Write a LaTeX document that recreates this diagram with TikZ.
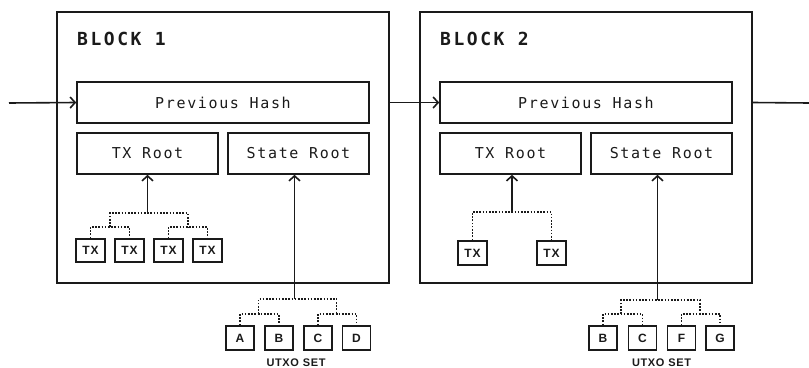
\documentclass[tikz,border=0pt]{standalone}
\usepackage{fontspec}
\usetikzlibrary{arrows.meta}
\newfontfamily\monofnt[LetterSpace=11]{DejaVu Sans Mono}
\newfontfamily\titlefnt[LetterSpace=14]{DejaVu Sans Mono}
\newfontfamily\labfnt[LetterSpace=6]{Liberation Sans}
\definecolor{ink}{HTML}{1A1A1A}
\tikzset{
  blockbox/.style={draw=ink, line width=1.7pt, minimum width=332pt, minimum height=271pt, inner sep=0pt},
  title/.style={anchor=base west, inner sep=0pt, text=ink, font=\titlefnt\bfseries\fontsize{18}{18}\selectfont},
  field/.style={draw=ink, line width=1.6pt, minimum height=41pt, inner sep=0pt, text=ink, font=\monofnt\fontsize{15}{15}\selectfont},
  leaf/.style={draw=ink, line width=1.5pt, minimum width=29pt, minimum height=23pt, inner sep=0pt, text=ink, font=\labfnt\bfseries\fontsize{12}{12}\selectfont},
  uleaf/.style={leaf, minimum width=28pt, minimum height=24pt},
  setlabel/.style={anchor=base, inner sep=0pt, text=ink, font=\labfnt\bfseries\fontsize{11}{11}\selectfont},
  dot/.style={draw=ink, line width=1.6pt, dash pattern=on 1.6pt off 1.6pt},
  arr/.style={draw=ink, line width=1.6pt, -{Straight Barb[length=5pt,width=11pt]}},
  plain/.style={draw=ink, line width=1.6pt}
}
\begin{document}
\begin{tikzpicture}[x=1pt,y=-1pt]
\useasboundingbox (0,0) rectangle (809,367);
% ---------- Block 1 ----------
\node[blockbox] (b1) at (223,147.5) {};
\node[title] (t1) at (77,45) {BLOCK 1};
\node[field, minimum width=292pt] (ph1) at (223,102.5) {Previous Hash};
\node[field, minimum width=141pt] (tr1) at (147.5,153.5) {TX Root};
\node[field, minimum width=141pt] (sr1) at (298.5,153.5) {State Root};
% TX leaves block 1
\node[leaf] (x1a) at (90.5,250.5) {TX};
\node[leaf] (x1b) at (129.5,250.5) {TX};
\node[leaf] (x1c) at (168.5,250.5) {TX};
\node[leaf] (x1d) at (207.5,250.5) {TX};
\coordinate (x1L) at (110,227);
\coordinate (x1R) at (188,227);
\coordinate (x1T) at (147.5,213);
\draw[dot] (x1a.north) |- (x1L) -| (x1b.north);
\draw[dot] (x1c.north) |- (x1R) -| (x1d.north);
\draw[dot] (x1L) |- (x1T) -| (x1R);
\draw[arr] (x1T) -- (x1T |- tr1.south);
% UTXO leaves block 1
\node[uleaf] (u1a) at (240,338) {A};
\node[uleaf] (u1b) at (279,338) {B};
\node[uleaf] (u1c) at (318,338) {C};
\node[uleaf] (u1d) at (356.5,338) {D};
\coordinate (u1L) at (258.5,314);
\coordinate (u1R) at (336.5,314);
\coordinate (u1T) at (294.5,299);
\draw[dot] (u1a.north) |- (u1L) -| (u1b.north);
\draw[dot] (u1c.north) |- (u1R) -| (u1d.north);
\draw[dot] (u1L) |- (u1T) -| (u1R);
\draw[arr] (u1T) -- (u1T |- sr1.south);
\node[setlabel] (s1) at (296,366) {UTXO SET};
% ---------- Block 2 ----------
\node[blockbox] (b2) at (586,147.5) {};
\node[title] (t2) at (440,45) {BLOCK 2};
\node[field, minimum width=292pt] (ph2) at (586,102.5) {Previous Hash};
\node[field, minimum width=141pt] (tr2) at (510.5,153.5) {TX Root};
\node[field, minimum width=141pt] (sr2) at (661.5,153.5) {State Root};
% TX leaves block 2
\node[leaf, minimum height=24pt] (x2a) at (472.5,253) {TX};
\node[leaf, minimum height=24pt] (x2b) at (551.5,253) {TX};
\coordinate (x2T) at (512,212);
\draw[dot] (x2a.north) |- (x2T) -| (x2b.north);
\draw[arr] (x2T) -- (x2T |- tr2.south);
% UTXO leaves block 2
\node[uleaf] (u2a) at (603,338) {B};
\node[uleaf] (u2b) at (642.5,338) {C};
\node[uleaf] (u2c) at (681.5,338) {F};
\node[uleaf] (u2d) at (720,338) {G};
\coordinate (u2L) at (621,314);
\coordinate (u2R) at (700,314);
\coordinate (u2T) at (657.5,300);
\draw[dot] (u2a.north) |- (u2L) -| (u2b.north);
\draw[dot] (u2c.north) |- (u2R) -| (u2d.north);
\draw[dot] (u2L) |- (u2T) -| (u2R);
\draw[arr] (u2T) -- (u2T |- sr2.south);
\node[setlabel] (s2) at (661.5,366) {UTXO SET};
% ---------- chain links ----------
\coordinate (cin) at (9,103);
\coordinate (cout) at (809,103);
\draw[arr] (cin) -- (ph1.west);
\draw[arr] (b1.east |- ph1.west) -- (ph2.west);
\draw[plain] (b2.east |- ph2.east) -- (cout);
\end{tikzpicture}
\end{document}
